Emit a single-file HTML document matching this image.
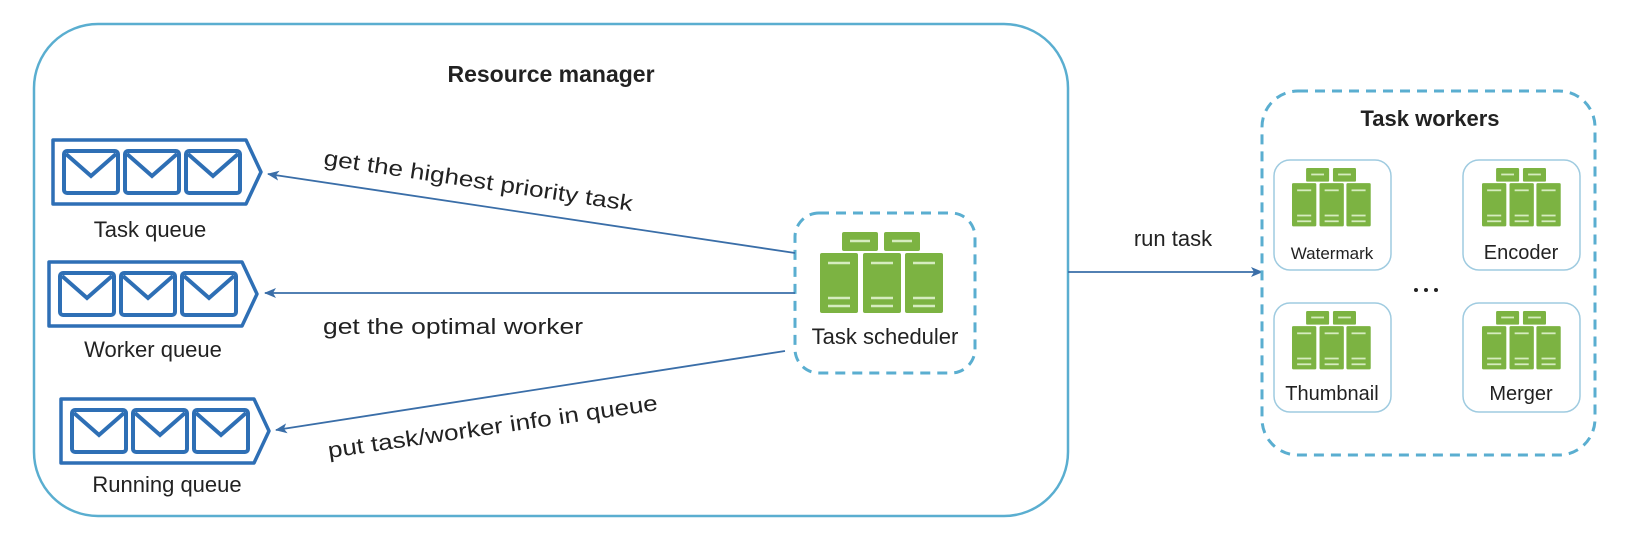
<!DOCTYPE html>
<html><head><meta charset="utf-8"><style>
html,body{margin:0;padding:0;background:#fff;}
svg{display:block;}
text{font-family:"Liberation Sans",Arial,sans-serif;fill:#222;}
</style></head><body>
<svg width="1646" height="534" viewBox="0 0 1646 534" xmlns="http://www.w3.org/2000/svg">
<defs>
<g id="srv">
  <rect x="22" y="0" width="36" height="19" rx="2" fill="#7cb342"/>
  <rect x="64" y="0" width="36" height="19" rx="2" fill="#7cb342"/>
  <rect x="0" y="21" width="38" height="60" rx="2" fill="#7cb342"/>
  <rect x="43" y="21" width="38" height="60" rx="2" fill="#7cb342"/>
  <rect x="85" y="21" width="38" height="60" rx="2" fill="#7cb342"/>
  <g stroke="#d6ecbf" stroke-width="2.5">
    <line x1="30" y1="9" x2="50" y2="9"/><line x1="72" y1="9" x2="92" y2="9"/>
    <line x1="8" y1="31" x2="30" y2="31"/><line x1="51" y1="31" x2="73" y2="31"/><line x1="93" y1="31" x2="115" y2="31"/>
    <line x1="8" y1="66" x2="30" y2="66"/><line x1="51" y1="66" x2="73" y2="66"/><line x1="93" y1="66" x2="115" y2="66"/>
    <line x1="8" y1="74" x2="30" y2="74"/><line x1="51" y1="74" x2="73" y2="74"/><line x1="93" y1="74" x2="115" y2="74"/>
  </g>
</g>
<g id="q">
  <path d="M2,2 H195 L210,34 L195,66 H2 Z" fill="#fff" stroke="#2e6fb5" stroke-width="3.5" stroke-linejoin="round"/>
  <g fill="none" stroke="#2e6fb5" stroke-width="4">
    <rect x="13" y="13" width="54" height="42" rx="3"/>
    <path d="M15,16 L40,38 L65,16"/>
    <rect x="74" y="13" width="54" height="42" rx="3"/>
    <path d="M76,16 L101,38 L126,16"/>
    <rect x="135" y="13" width="54" height="42" rx="3"/>
    <path d="M137,16 L162,38 L187,16"/>
  </g>
</g>
<marker id="ah" markerWidth="12" markerHeight="10" refX="11" refY="5" orient="auto" markerUnits="userSpaceOnUse">
  <path d="M0,0 L12,5 L0,10 L3,5 Z" fill="#3a6ea8"/>
</marker>
</defs>

<rect x="34" y="24" width="1034" height="492" rx="64" fill="#fff" stroke="#5aaed0" stroke-width="2.5"/>
<text x="551" y="82" font-size="23" font-weight="bold" text-anchor="middle">Resource manager</text>

<use href="#q" x="51" y="138"/>
<text x="150" y="237" font-size="22" text-anchor="middle">Task queue</text>
<use href="#q" x="47" y="260"/>
<text x="153" y="357" font-size="22" text-anchor="middle">Worker queue</text>
<use href="#q" x="59" y="397"/>
<text x="167" y="492" font-size="22" text-anchor="middle">Running queue</text>

<rect x="795" y="213" width="180" height="160" rx="24" fill="#fff" stroke="#5aaed0" stroke-width="3" stroke-dasharray="10,7"/>
<use href="#srv" x="820" y="232"/>
<text x="885" y="344" font-size="22" text-anchor="middle">Task scheduler</text>

<g stroke="#3a6ea8" stroke-width="1.8" fill="none">
  <line x1="795" y1="253" x2="268" y2="174" marker-end="url(#ah)"/>
  <line x1="795" y1="293" x2="265" y2="293" marker-end="url(#ah)"/>
  <line x1="785" y1="351" x2="276" y2="430" marker-end="url(#ah)"/>
  <line x1="1068" y1="272" x2="1262" y2="272" marker-end="url(#ah)"/>
</g>
<text x="323" y="165" font-size="22" transform="rotate(8.5 323 165)" textLength="312" lengthAdjust="spacingAndGlyphs">get the highest priority task</text>
<text x="323" y="334" font-size="22" textLength="260" lengthAdjust="spacingAndGlyphs">get the optimal worker</text>
<text x="329" y="458" font-size="22" transform="rotate(-8.3 329 458)" textLength="333" lengthAdjust="spacingAndGlyphs">put task/worker info in queue</text>
<text x="1173" y="246" font-size="22" text-anchor="middle">run task</text>

<rect x="1262" y="91" width="333" height="364" rx="36" fill="#fff" stroke="#5aaed0" stroke-width="3" stroke-dasharray="10,7"/>
<text x="1430" y="126" font-size="22" font-weight="bold" text-anchor="middle">Task workers</text>

<rect x="1274" y="160" width="117" height="110" rx="16" fill="#fff" stroke="#9fcbe0" stroke-width="1.5"/>
<use href="#srv" transform="translate(1292 168) scale(0.64 0.72)"/>
<text x="1332" y="259" font-size="17" text-anchor="middle">Watermark</text>

<rect x="1463" y="160" width="117" height="110" rx="16" fill="#fff" stroke="#9fcbe0" stroke-width="1.5"/>
<use href="#srv" transform="translate(1482 168) scale(0.64 0.72)"/>
<text x="1521" y="259" font-size="20" text-anchor="middle">Encoder</text>

<rect x="1274" y="303" width="117" height="109" rx="16" fill="#fff" stroke="#9fcbe0" stroke-width="1.5"/>
<use href="#srv" transform="translate(1292 311) scale(0.64 0.72)"/>
<text x="1332" y="400" font-size="20" text-anchor="middle">Thumbnail</text>

<rect x="1463" y="303" width="117" height="109" rx="16" fill="#fff" stroke="#9fcbe0" stroke-width="1.5"/>
<use href="#srv" transform="translate(1482 311) scale(0.64 0.72)"/>
<text x="1521" y="400" font-size="20" text-anchor="middle">Merger</text>

<g fill="#222"><circle cx="1416" cy="290" r="2"/><circle cx="1426" cy="290" r="2"/><circle cx="1436" cy="290" r="2"/></g>
</svg>
</body></html>
